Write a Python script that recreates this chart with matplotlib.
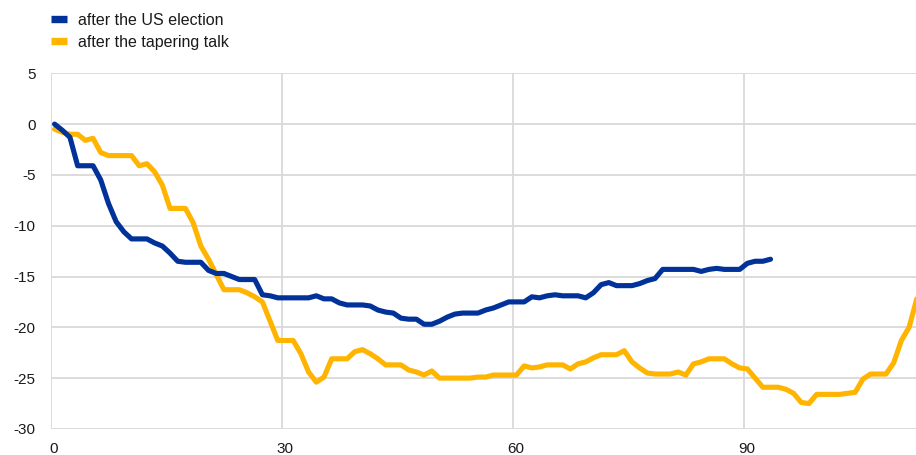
import numpy as np
import matplotlib
matplotlib.use("Agg")
import matplotlib.pyplot as plt
from matplotlib.lines import Line2D
from matplotlib import transforms

plt.rcParams["font.family"] = ["Liberation Sans", "DejaVu Sans"]
plt.rcParams["axes.unicode_minus"] = False

# Cumulative change, by trading day after each event
us_election = [
    0.0, -0.6, -1.3, -4.1, -4.1, -4.1, -5.5, -7.8, -9.6, -10.6,
    -11.3, -11.3, -11.3, -11.7, -12.0, -12.7, -13.5, -13.6, -13.6, -13.6,
    -14.4, -14.7, -14.7, -15.0, -15.3, -15.3, -15.3, -16.8, -16.9, -17.1,
    -17.1, -17.1, -17.1, -17.1, -16.9, -17.2, -17.2, -17.6, -17.8, -17.8,
    -17.8, -17.9, -18.3, -18.5, -18.6, -19.1, -19.2, -19.2, -19.7, -19.7,
    -19.4, -19.0, -18.7, -18.6, -18.6, -18.6, -18.3, -18.1, -17.8, -17.5,
    -17.5, -17.5, -17.0, -17.1, -16.9, -16.8, -16.9, -16.9, -16.9, -17.1,
    -16.6, -15.8, -15.6, -15.9, -15.9, -15.9, -15.7, -15.4, -15.2, -14.3,
    -14.3, -14.3, -14.3, -14.3, -14.5, -14.3, -14.2, -14.3, -14.3, -14.3,
    -13.7, -13.5, -13.5, -13.3,
]

tapering_talk = [
    -0.5, -0.8, -1.0, -1.0, -1.6, -1.4, -2.8, -3.1, -3.1, -3.1,
    -3.1, -4.1, -3.9, -4.7, -6.0, -8.3, -8.3, -8.3, -9.7, -12.0,
    -13.3, -14.8, -16.3, -16.3, -16.3, -16.6, -17.0, -17.5, -19.4, -21.3,
    -21.3, -21.3, -22.6, -24.4, -25.4, -24.9, -23.1, -23.1, -23.1, -22.4,
    -22.2, -22.6, -23.1, -23.7, -23.7, -23.7, -24.2, -24.4, -24.7, -24.3,
    -25.0, -25.0, -25.0, -25.0, -25.0, -24.9, -24.9, -24.7, -24.7, -24.7,
    -24.7, -23.8, -24.0, -23.9, -23.7, -23.7, -23.7, -24.1, -23.6, -23.4,
    -23.0, -22.7, -22.7, -22.7, -22.3, -23.4, -24.0, -24.5, -24.6, -24.6,
    -24.6, -24.4, -24.7, -23.6, -23.4, -23.1, -23.1, -23.1, -23.6, -24.0,
    -24.1, -25.0, -25.9, -25.9, -25.9, -26.1, -26.5, -27.4, -27.5, -26.6,
    -26.6, -26.6, -26.6, -26.5, -26.4, -25.1, -24.6, -24.6, -24.6, -23.5,
    -21.3, -20.0, -17.2,
]

series_labels = ["after the US election", "after the tapering talk"]
series_colors = ["#003299", "#FFB400"]
x_ticks = [0, 30, 60, 90]
y_ticks = [5, 0, -5, -10, -15, -20, -25, -30]

W, H = 916, 455
fig = plt.figure(figsize=(W / 100, H / 100), dpi=100)
left, right = 50.7, 916.0
top, bottom = 73.3, 428.9
ax = fig.add_axes([left / W, 1 - bottom / H, (right - left) / W, (bottom - top) / H])

grid_color = "#d9d9d9"
for s in ax.spines.values():
    s.set_visible(False)

for i, (vals, color) in enumerate(zip([us_election, tapering_talk], series_colors)):
    days = np.arange(len(vals))
    # each day's value sits in the middle of its slot on the category axis
    ax.plot(days + 0.5, vals, color=color, lw=3.7, solid_joinstyle="round",
            solid_capstyle="round", zorder=3 + (1 - i))

ax.set_xlim(0, 112.4)
ax.set_ylim(-30, 5)
ax.set_xticks(x_ticks)
ax.set_yticks(y_ticks)
ax.grid(True, color=grid_color, lw=1.3)
ax.set_axisbelow(True)
ax.tick_params(length=0, labelsize=11, colors="#1a1a1a")
ax.tick_params(axis="y", pad=11)
ax.tick_params(axis="x", pad=9.5)
offset = transforms.ScaledTranslation(3 / 100, 0, fig.dpi_scale_trans)
for lab in ax.get_xticklabels():
    lab.set_transform(lab.get_transform() + offset)

handles = [Line2D([], [], color=c, lw=5.3, solid_capstyle="butt") for c in series_colors]
fig.legend(handles, series_labels, loc="upper left",
           bbox_to_anchor=(50.5 / W, 1 - 13 / H), frameon=False,
           fontsize=11.5, handlelength=1.05, handletextpad=0.65,
           labelspacing=0.42, borderaxespad=0, borderpad=0,
           labelcolor="#1a1a1a")

fig.savefig("out.png", dpi=100)
